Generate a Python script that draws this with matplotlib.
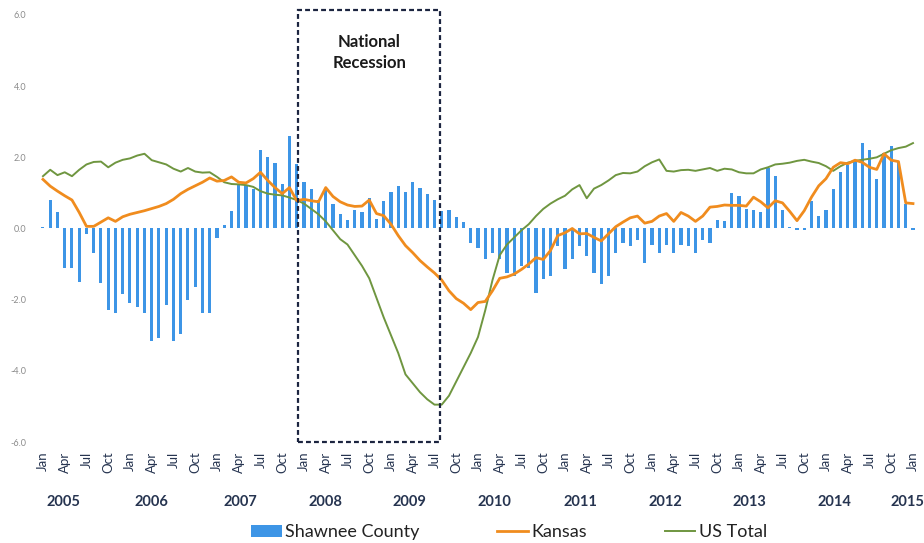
import matplotlib

matplotlib.use("Agg")
import matplotlib.pyplot as plt
from matplotlib.patches import Patch, Rectangle
from matplotlib.lines import Line2D
import matplotlib.transforms as mtransforms

plt.rcParams["font.family"] = ["Lato", "DejaVu Sans"]

# monthly series, Jan 2005 .. Jan 2015
months = ["Jan", "Apr", "Jul", "Oct"]
years = [str(y) for y in range(2005, 2016)]

shawnee = [
    0.05, 0.8, 0.47, -1.1, -1.12, -1.5, -0.15, -0.68, -1.53, -2.29,
    -2.37, -1.85, -2.08, -2.2, -2.37, -3.16, -3.08, -2.15, -3.16, -2.97,
    -2.0, -1.65, -2.37, -2.37, -0.28, 0.1, 0.5, 1.22, 1.22, 1.1,
    2.2, 2.0, 1.85, 1.24, 2.59, 1.82, 1.3, 1.12, 0.81, 1.1,
    0.7, 0.42, 0.23, 0.53, 0.45, 0.85, 0.27, 0.76, 1.03, 1.2,
    1.03, 1.31, 1.13, 0.98, 0.8, 0.5, 0.51, 0.33, 0.17, -0.42,
    -0.55, -0.87, -0.68, -0.87, -1.24, -1.34, -1.06, -1.1, -1.8, -1.43,
    -1.34, -0.5, -1.15, -0.87, -0.5, -0.78, -1.24, -1.57, -1.34, -0.68,
    -0.4, -0.5, -0.31, -0.96, -0.45, -0.68, -0.45, -0.68, -0.45, -0.5,
    -0.68, -0.31, -0.4, 0.25, 0.22, 1.0, 0.9, 0.56, 0.51, 0.47,
    1.7, 1.47, 0.53, 0.05, -0.03, -0.05, 0.77, 0.35, 0.53, 1.12,
    1.6, 1.78, 1.9, 2.4, 2.2, 1.4, 2.12, 2.33, 1.87, 0.7, -0.05,
]

kansas = [
    1.38, 1.19, 1.05, 0.92, 0.8, 0.45, 0.06, 0.06, 0.18, 0.3,
    0.2, 0.33, 0.4, 0.45, 0.5, 0.56, 0.62, 0.7, 0.82, 0.98,
    1.1, 1.2, 1.3, 1.42, 1.33, 1.35, 1.45, 1.3, 1.28, 1.4,
    1.58, 1.35, 1.15, 0.98, 1.15, 0.78, 0.82, 0.78, 0.75, 1.15,
    0.9, 0.75, 0.66, 0.62, 0.63, 0.8, 0.42, 0.36, 0.12, -0.2,
    -0.48, -0.68, -0.9, -1.08, -1.25, -1.45, -1.75, -1.97, -2.1, -2.28,
    -2.08, -2.05, -1.75, -1.4, -1.36, -1.28, -1.15, -1.0, -0.82, -0.87,
    -0.62, -0.2, -0.12, 0.0, -0.15, -0.14, -0.25, -0.35, -0.15, 0.05,
    0.18, 0.3, 0.35, 0.15, 0.2, 0.35, 0.42, 0.2, 0.45, 0.35,
    0.2, 0.35, 0.6, 0.62, 0.66, 0.65, 0.65, 0.63, 0.88, 0.75,
    0.58, 0.78, 0.72, 0.48, 0.22, 0.5, 0.88, 1.2, 1.4, 1.72,
    1.85, 1.82, 1.92, 1.86, 1.72, 1.66, 2.1, 1.92, 1.88, 0.72, 0.7,
]

us_total = [
    1.47, 1.65, 1.5, 1.58, 1.47, 1.65, 1.8, 1.87, 1.88, 1.72,
    1.85, 1.93, 1.97, 2.05, 2.1, 1.92, 1.86, 1.8, 1.68, 1.6,
    1.7, 1.6, 1.57, 1.58, 1.45, 1.3, 1.25, 1.24, 1.22, 1.17,
    1.05, 0.98, 0.95, 0.93, 0.87, 0.8, 0.7, 0.55, 0.4, 0.2,
    -0.05, -0.3, -0.45, -0.75, -1.05, -1.4, -1.95, -2.5, -3.0, -3.5,
    -4.1, -4.35, -4.6, -4.8, -4.95, -4.95, -4.7, -4.3, -3.9, -3.5,
    -3.05, -2.3, -1.45, -0.75, -0.45, -0.25, -0.05, 0.12, 0.35, 0.55,
    0.7, 0.82, 0.92, 1.1, 1.22, 0.85, 1.12, 1.22, 1.35, 1.5,
    1.56, 1.55, 1.6, 1.75, 1.86, 1.94, 1.62, 1.6, 1.64, 1.65,
    1.62, 1.66, 1.7, 1.62, 1.68, 1.66, 1.58, 1.55, 1.55, 1.66,
    1.72, 1.8, 1.82, 1.85, 1.9, 1.93, 1.88, 1.84, 1.75, 1.62,
    1.75, 1.85, 1.9, 1.93, 1.96, 2.0, 2.1, 2.2, 2.26, 2.3, 2.4,
]

# where the year captions sit (month index) and the recession box span
year_pos = [2.8, 15.0, 27.2, 38.9, 50.6, 62.3, 74.1, 85.8, 97.5, 109.2, 119.2]
recession = (35.2, 54.8)

BLUE = "#3d95e6"
ORANGE = "#f08c1e"
GREEN = "#6f9640"
NAVY = "#263450"

x = list(range(len(shawnee)))

fig = plt.figure(figsize=(9.24, 5.43), dpi=100)
ax = fig.add_axes([0.0418, 0.186, 0.951, 0.7864])

ax.bar(x, shawnee, width=0.42, color=BLUE, zorder=1)
ax.plot(x, us_total, color=GREEN, lw=1.4, zorder=2)
ax.plot(x, kansas, color=ORANGE, lw=2.0, zorder=3)

ax.set_xlim(-0.6, 120.6)
ax.set_ylim(-6, 6)
for s in ax.spines.values():
    s.set_visible(False)

ticks = list(range(0, len(x), 3))
ax.set_xticks(ticks)
ax.set_xticklabels([months[(t // 3) % 4] for t in ticks], rotation=90,
                   fontsize=9.5, color=NAVY)
yt = [-6, -4, -2, 0, 2, 4, 6]
ax.set_yticks(yt)
ax.set_yticklabels([f"{v:.1f}" for v in yt], fontsize=6.5, color="#8c8c8c")
ax.tick_params(axis="x", length=0, pad=7)
ax.tick_params(axis="y", length=0, pad=9)

trans = mtransforms.blended_transform_factory(ax.transData, ax.transAxes)
for xp, yr in zip(year_pos, years):
    ax.text(xp, -0.14, yr, transform=trans, ha="center", va="center",
            fontsize=10.5, fontweight="bold", color=NAVY)

# national recession box
ax.add_patch(Rectangle((recession[0], -6), recession[1] - recession[0], 12.13,
                       fill=False, edgecolor="#1c2540", lw=1.6,
                       linestyle=(0, (2.2, 1.4)), clip_on=False, zorder=4))
ax.text(sum(recession) / 2, 4.95, "National\nRecession", ha="center", va="center",
        fontsize=12, fontweight="bold", color="#1a1a1a", linespacing=1.35)

handles = [Patch(facecolor=BLUE, edgecolor="none"),
           Line2D([], [], color=ORANGE, lw=2.0),
           Line2D([], [], color=GREEN, lw=1.4)]
fig.legend(handles, ["Shawnee County", "Kansas", "US Total"], loc="center",
           bbox_to_anchor=(0.551, 0.02), ncol=3, frameon=False, fontsize=13,
           handlelength=1.7, handletextpad=0.2, columnspacing=4.3,
           labelcolor="#222222")

fig.savefig("out.png", dpi=100)
